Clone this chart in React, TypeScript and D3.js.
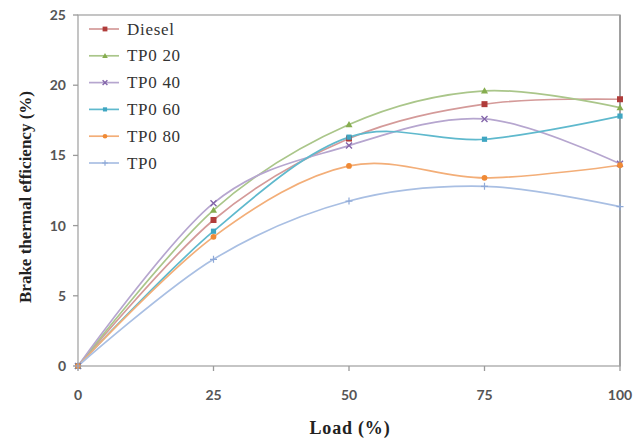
import React from "react";
import * as d3 from "d3";

const loads = [0, 25, 50, 75, 100];
const seriesNames = ["Diesel", "TP0 20", "TP0 40", "TP0 60", "TP0 80", "TP0"];
const diesel = [0, 10.4, 16.2, 18.65, 19.0];
const tp020 = [0, 11.1, 17.2, 19.6, 18.4];
const tp040 = [0, 11.6, 15.7, 17.6, 14.4];
const tp060 = [0, 9.6, 16.3, 16.15, 17.8];
const tp080 = [0, 9.2, 14.25, 13.4, 14.3];
const tp0 = [0, 7.6, 11.75, 12.8, 11.35];
const xTicks = [0, 25, 50, 75, 100];
const yTicks = [0, 5, 10, 15, 20, 25];

const lineColors = ["#d49a99", "#aac68a", "#b6a6cf", "#5fb9cd", "#f3ae78", "#a9bfe3"];
const markColors = ["#b03c3a", "#86ad4f", "#8466aa", "#3fa6c2", "#f08a35", "#8ea9d8"];
const markers = ["square", "triangle", "x", "star", "circle", "plus"];

const W = 644, H = 438;
const left = 78, right = 620, top = 15, bottom = 366;

function Marker({ type, x, y, color, s = 1 }: { type: string; x: number; y: number; color: string; s?: number }) {
  if (type === "square") return <rect x={x - 3 * s} y={y - 3 * s} width={6 * s} height={6 * s} fill={color} />;
  if (type === "triangle") return <path d={`M${x},${y - 3.5 * s}L${x + 3.5 * s},${y + 2.7 * s}L${x - 3.5 * s},${y + 2.7 * s}Z`} fill={color} />;
  if (type === "circle") return <circle cx={x} cy={y} r={2.9 * s} fill={color} />;
  if (type === "x")
    return <path d={`M${x - 3 * s},${y - 3 * s}L${x + 3 * s},${y + 3 * s}M${x - 3 * s},${y + 3 * s}L${x + 3 * s},${y - 3 * s}`} stroke={color} strokeWidth={1.4} />;
  if (type === "star") return <rect x={x - 2.6 * s} y={y - 2.6 * s} width={5.2 * s} height={5.2 * s} fill={color} />;
  return <path d={`M${x - 3.5 * s},${y}L${x + 3.5 * s},${y}M${x},${y - 3.5 * s}L${x},${y + 3.5 * s}`} stroke={color} strokeWidth={1.2} />;
}

export default function App() {
  const x = d3.scaleLinear().domain([0, 100]).range([left, right]);
  const y = d3.scaleLinear().domain([0, 25]).range([bottom, top]);
  const all = [diesel, tp020, tp040, tp060, tp080, tp0];
  const line = d3
    .line<number>()
    .x((_, i) => x(loads[i]))
    .y((d) => y(d))
    .curve(d3.curveCardinal.tension(0));
  const legendY = (i: number) => 29 + i * 26.8;
  const tickFont = "Lato, 'Open Sans', sans-serif";
  return (
    <svg width={W} height={H} style={{ display: "block", position: "absolute", left: 0, top: 0 }}>
      <rect width={W} height={H} fill="#fff" />
      <rect x={left} y={top} width={right - left} height={bottom - top} fill="none" stroke="#a6a6a6" strokeWidth={1.3} />
      <line x1={right} x2={right} y1={top} y2={bottom} stroke="#a0a0a0" strokeWidth={2} />
      {yTicks.map((t) => (
        <g key={"y" + t}>
          <line x1={left - 5} x2={left} y1={y(t)} y2={y(t)} stroke="#9a9a9a" strokeWidth={1.3} />
          <text x={66} y={y(t) + 5} textAnchor="end" fontFamily={tickFont} fontWeight={700} fontSize={14} fill="#555">
            {t}
          </text>
        </g>
      ))}
      {xTicks.map((t) => (
        <g key={"x" + t}>
          <line x1={x(t)} x2={x(t)} y1={bottom} y2={bottom + 5} stroke="#9a9a9a" strokeWidth={1.3} />
          <text x={x(t)} y={400} textAnchor="middle" fontFamily={tickFont} fontWeight={700} fontSize={14} fill="#555">
            {t}
          </text>
        </g>
      ))}
      {all.map((s, si) => (
        <path key={"l" + si} d={line(s) || ""} fill="none" stroke={lineColors[si]} strokeWidth={1.7} />
      ))}
      {all.map((s, si) => (
        <g key={"m" + si}>
          {s.map((v, i) => (
            <Marker key={i} type={markers[si]} x={x(loads[i])} y={y(v)} color={markColors[si]} />
          ))}
        </g>
      ))}
      {seriesNames.map((n, i) => (
        <g key={"lg" + i}>
          <line x1={89} x2={119} y1={legendY(i)} y2={legendY(i)} stroke={lineColors[i]} strokeWidth={1.7} />
          <Marker type={markers[i]} x={105} y={legendY(i)} color={markColors[i]} s={0.8} />
          <text x={127} y={legendY(i) + 5.5} fontFamily="'Liberation Serif', serif" fontSize={17} letterSpacing={0.7} fill="#333">
            {n}
          </text>
        </g>
      ))}
      <text x={350} y={434} textAnchor="middle" fontFamily="'Liberation Serif', serif" fontWeight={700} fontSize={18} letterSpacing={0.8} fill="#222">
        Load (%)
      </text>
      <text
        transform={`translate(31,197) rotate(-90)`}
        textAnchor="middle"
        fontFamily="'Liberation Serif', serif"
        fontWeight={700}
        fontSize={17}
        fill="#222"
      >
        Brake thermal efficiency (%)
      </text>
    </svg>
  );
}
